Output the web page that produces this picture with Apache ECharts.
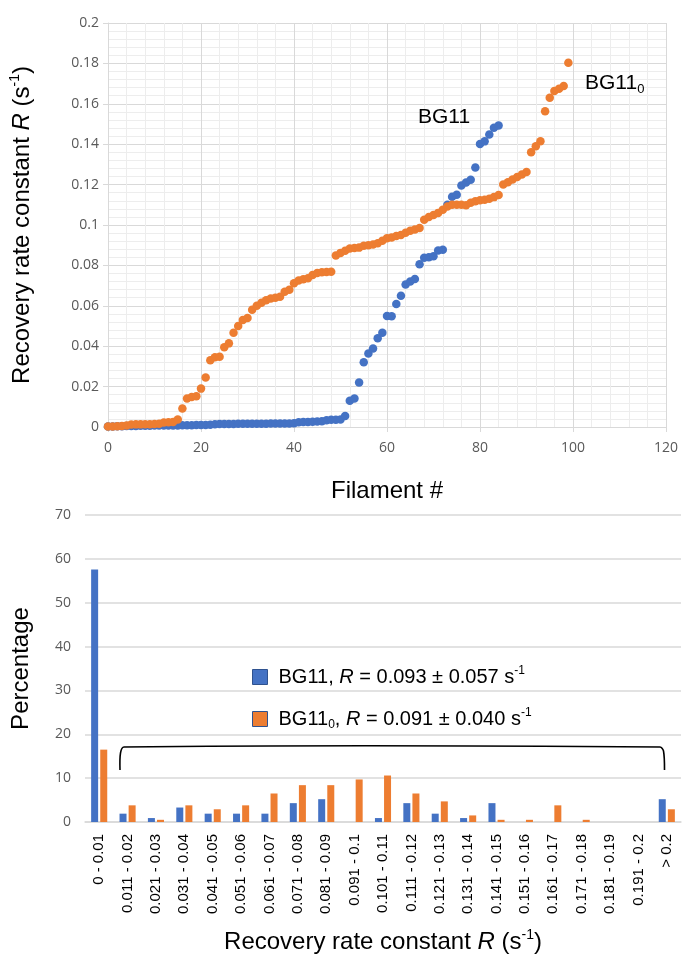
<!DOCTYPE html>
<html><head><meta charset="utf-8">
<script src="https://cdn.jsdelivr.net/npm/echarts@6/dist/echarts.min.js"></script>
<style>html,body{margin:0;padding:0;background:#fff}#c{width:682px;height:956px}</style>
</head><body><div id="c"></div>
<script>
// Top chart: recovery rate constant per filament (x = filament index)
const rateBG11 = [0.0003,0.0003,0.0004,0.0004,0.0005,0.0005,0.0005,0.0006,0.0006,0.0006,
0.0007,0.0007,0.0007,0.0008,0.0008,0.0008,0.0009,0.0009,0.0009,0.0010,
0.0010,0.0010,0.0011,0.0014,0.0015,0.0015,0.0015,0.0015,0.0016,0.0016,
0.0016,0.0016,0.0016,0.0016,0.0016,0.0017,0.0017,0.0017,0.0017,0.0017,
0.0018,0.0023,0.0025,0.0025,0.0026,0.0027,0.0028,0.0034,0.0036,0.0036,
0.0037,0.0055,0.0130,0.0141,0.0220,0.0320,0.0364,0.0389,0.0439,0.0467,
0.0550,0.0548,0.0609,0.0650,0.0706,0.0720,0.0733,0.0806,0.0838,0.0840,
0.0845,0.0874,0.0878,0.1100,0.1140,0.1150,0.1195,0.1210,0.1224,0.1285,
0.1401,0.1414,0.1448,0.1482,0.1492];
const rateBG11_0 = [0.0002,0.0003,0.0004,0.0005,0.0008,0.0012,0.0013,0.0013,0.0014,0.0014,
0.0015,0.0016,0.0022,0.0023,0.0025,0.0037,0.0091,0.0141,0.0149,0.0152,
0.0190,0.0245,0.0330,0.0345,0.0348,0.0395,0.0414,0.0466,0.0500,0.0530,
0.0540,0.0580,0.0600,0.0615,0.0628,0.0636,0.0640,0.0645,0.0670,0.0680,
0.0712,0.0725,0.0731,0.0736,0.0753,0.0762,0.0766,0.0767,0.0768,0.0849,
0.0862,0.0872,0.0884,0.0886,0.0888,0.0897,0.0900,0.0904,0.0910,0.0922,
0.0935,0.0938,0.0945,0.0950,0.0962,0.0972,0.0978,0.0985,0.1026,0.1040,
0.1050,0.1060,0.1075,0.1092,0.1100,0.1100,0.1100,0.1098,0.1110,0.1118,
0.1122,0.1125,0.1130,0.1138,0.1148,0.1200,0.1212,0.1225,0.1238,0.1250,
0.1262,0.1360,0.1390,0.1415,0.1563,0.1630,0.1663,0.1675,0.1688,0.1803];

// Bottom chart: histogram
const rangeLabels = ['0 - 0.01','0.011 - 0.02','0.021 - 0.03','0.031 - 0.04','0.041 - 0.05',
'0.051 - 0.06','0.061 - 0.07','0.071 - 0.08','0.081 - 0.09','0.091 - 0.1','0.101 - 0.11',
'0.111 - 0.12','0.121 - 0.13','0.131 - 0.14','0.141 - 0.15','0.151 - 0.16','0.161 - 0.17',
'0.171 - 0.18','0.181 - 0.19','0.191 - 0.2','> 0.2'];
const pctBG11 = [57.6,1.9,0.9,3.3,1.9,1.9,1.9,4.3,5.2,0,0.9,4.3,1.9,0.9,4.3,0,0,0,0,0,5.2];
const pctBG11_0 = [16.5,3.8,0.5,3.8,2.9,3.8,6.5,8.4,8.4,9.7,10.6,6.5,4.7,1.5,0.5,0.5,3.8,0.5,0,0,2.9];

const topXTicks = {min:0,max:120,interval:20};
const topYTicks = {min:0,max:0.2,interval:0.02};
const pctTicks = {min:0,max:70,interval:10};

const BLUE = '#4472C4', ORANGE = '#ED7D31';
const TF = 'Liberation Sans';
const NF = 'Open Sans';
const mainRich = {
  a:{fontFamily:TF,fontSize:24,color:'#000',lineHeight:28},
  i:{fontFamily:TF,fontSize:24,color:'#000',fontStyle:'italic',lineHeight:28},
  sup:{fontFamily:TF,fontSize:14,color:'#000',verticalAlign:'top'}
};
const legRich = {
  a:{fontFamily:TF,fontSize:20,color:'#000',lineHeight:24},
  p:{fontFamily:TF,fontSize:20,color:'#000',lineHeight:24,padding:[0,0,0,6]},
  i:{fontFamily:TF,fontSize:20,color:'#000',fontStyle:'italic',lineHeight:24},
  sup:{fontFamily:TF,fontSize:12,color:'#000',verticalAlign:'top'},
  sub:{fontFamily:TF,fontSize:12,color:'#000',verticalAlign:'bottom'}
};
const rTitle = '{a|Recovery rate constant }{i|R}{a| (s}{sup|-1}{a|)}';

const chart = echarts.init(document.getElementById('c'));
chart.setOption({
  animation:false,
  backgroundColor:'#fff',
  title:[
    {text:'{a|BG11}',left:418,top:104,padding:0,
     textStyle:{rich:{a:{fontFamily:TF,fontSize:21,color:'#000',fontWeight:'normal',lineHeight:26}}}},
    {text:'{a|BG11}{sub|0}',left:585,top:70,padding:0,
     textStyle:{rich:{a:{fontFamily:TF,fontSize:21,color:'#000',fontWeight:'normal',lineHeight:26},
                      sub:{fontFamily:TF,fontSize:13,color:'#000',fontWeight:'normal',verticalAlign:'bottom'}}}}
  ],
  grid:[{left:104,right:16,top:23,bottom:529},{left:85,right:1,top:515,bottom:134}],
  legend:{
    data:['BG11','BG11_0'], orient:'vertical', left:252, top:665, padding:0, icon:'rect',
    itemWidth:15, itemHeight:15, itemGap:20,
    itemStyle:{borderColor:'#2f528f',borderWidth:1},
    formatter:function(n){
      return n==='BG11' ? '{p|BG11, }{i|R}{a| = 0.093 ± 0.057 s}{sup|-1}'
                        : '{p|BG11}{sub|0}{a|, }{i|R}{a| = 0.091 ± 0.040 s}{sup|-1}';
    },
    textStyle:{rich:legRich}
  },
  xAxis:[
    {gridIndex:0,type:'value',min:topXTicks.min,max:topXTicks.max,interval:topXTicks.interval,
     minorTick:{show:false,splitNumber:5},
     minorSplitLine:{show:true,lineStyle:{color:'#ededed',width:1}},
     splitLine:{show:true,lineStyle:{color:'#d9d9d9'}},
     axisLine:{show:true,lineStyle:{color:'#d9d9d9'}},
     axisTick:{show:true,length:5,lineStyle:{color:'#d9d9d9'}},
     axisLabel:{fontFamily:NF,fontSize:14,color:'#595959',margin:14},
     name:'Filament #',nameLocation:'middle',nameGap:52,
     nameTextStyle:{fontFamily:TF,fontSize:24,color:'#000'}},
    {gridIndex:1,type:'category',data:rangeLabels,
     axisTick:{show:false},
     axisLine:{show:true,lineStyle:{color:'#d9d9d9',width:1.5}},
     axisLabel:{interval:0,rotate:90,fontFamily:TF,fontSize:15,color:'#000',margin:12},
     name:rTitle,nameLocation:'middle',nameGap:106,
     nameTextStyle:{rich:mainRich}}
  ],
  yAxis:[
    {gridIndex:0,type:'value',min:topYTicks.min,max:topYTicks.max,interval:topYTicks.interval,
     minorTick:{show:false,splitNumber:5},
     minorSplitLine:{show:true,lineStyle:{color:'#ededed',width:1}},
     splitLine:{show:true,lineStyle:{color:'#d9d9d9'}},
     axisLine:{show:true,lineStyle:{color:'#d9d9d9'}},
     axisTick:{show:true,length:5,lineStyle:{color:'#d9d9d9'}},
     axisLabel:{fontFamily:NF,fontSize:14,color:'#595959',margin:9,
       formatter:function(v){return String(+v.toFixed(2));}},
     name:rTitle,nameLocation:'middle',nameGap:72,
     nameTextStyle:{rich:mainRich}},
    {gridIndex:1,type:'value',min:pctTicks.min,max:pctTicks.max,interval:pctTicks.interval,
     splitLine:{show:true,lineStyle:{color:'#d9d9d9',width:1.5}},
     axisLine:{show:false},axisTick:{show:false},
     axisLabel:{fontFamily:NF,fontSize:14,color:'#595959',margin:14},
     name:'Percentage',nameLocation:'middle',nameGap:52,
     nameTextStyle:{fontFamily:TF,fontSize:24,color:'#000'}}
  ],
  series:[
    {name:'BG11 filaments',type:'scatter',xAxisIndex:0,yAxisIndex:0,symbolSize:8.5,
     itemStyle:{color:BLUE,opacity:1},data:rateBG11.map((v,i)=>[i,v])},
    {name:'BG11_0 filaments',type:'scatter',xAxisIndex:0,yAxisIndex:0,symbolSize:8.5,
     itemStyle:{color:ORANGE,opacity:1},data:rateBG11_0.map((v,i)=>[i,v])},
    {name:'BG11',type:'bar',xAxisIndex:1,yAxisIndex:1,barWidth:7,barGap:'30%',
     itemStyle:{color:BLUE},data:pctBG11},
    {name:'BG11_0',type:'bar',xAxisIndex:1,yAxisIndex:1,barWidth:7,barGap:'30%',
     itemStyle:{color:ORANGE},data:pctBG11_0}
  ],
  graphic:[
    {type:'polyline',shape:{points:[[120,770],[120.5,753],[124,747],[660,747],[663.5,751],[664.5,770]],smooth:0.3},
     style:{stroke:'#000',lineWidth:1.6,fill:null}}
  ]
});
</script></body></html>
